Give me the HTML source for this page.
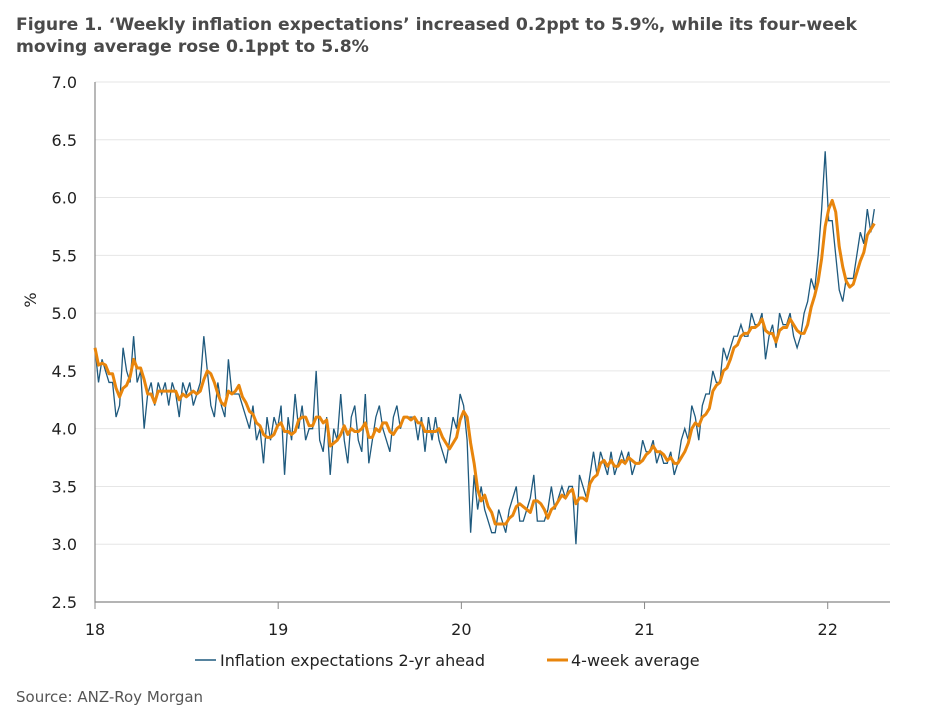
<!DOCTYPE html>
<html><head><meta charset="utf-8"><style>
body{margin:0;background:#fff;font-family:"DejaVu Sans","Liberation Sans",sans-serif;}
#wrap{position:relative;width:946px;height:712px;overflow:hidden}
.title{position:absolute;left:16px;top:14px;font-size:17.2px;font-weight:bold;color:#4a4a4a;line-height:22px;width:900px}
.src{position:absolute;left:16px;top:688px;font-size:15px;color:#555}
</style></head><body>
<div id="wrap">
<div class="title">Figure 1. ‘Weekly inflation expectations’ increased 0.2ppt to 5.9%, while its four-week moving average rose 0.1ppt to 5.8%</div>
<svg id="c" width="946" height="712" style="position:absolute;left:0;top:0"></svg>
<div class="src">Source: ANZ-Roy Morgan</div>
</div>
<script>
const yTicks=[2.5,3.0,3.5,4.0,4.5,5.0,5.5,6.0,6.5,7.0];
const xTicks=[18,19,20,21,22];
const startYear=18;
const weekly=[
4.7,4.4,4.6,4.5,4.4,4.4,4.1,4.2,4.7,4.5,4.4,4.8,4.4,4.5,4.0,4.3,4.4,4.2,4.4,4.3,4.4,4.2,4.4,4.3,4.1,4.4,4.3,4.4,4.2,4.3,4.4,4.8,4.5,4.2,4.1,4.4,4.2,4.1,4.6,4.3,4.3,4.3,4.2,4.1,4.0,4.2,3.9,4.0,3.7,4.1,3.9,4.1,
4.0,4.2,3.6,4.1,3.9,4.3,4.0,4.2,3.9,4.0,4.0,4.5,3.9,3.8,4.1,3.6,4.0,3.9,4.3,3.9,3.7,4.1,4.2,3.9,3.8,4.3,3.7,3.9,4.1,4.2,4.0,3.9,3.8,4.1,4.2,4.0,4.1,4.1,4.1,4.1,3.9,4.1,3.8,4.1,3.9,4.1,3.9,3.8,3.7,3.9,4.1,4.0,
4.3,4.2,3.9,3.1,3.6,3.3,3.5,3.3,3.2,3.1,3.1,3.3,3.2,3.1,3.3,3.4,3.5,3.2,3.2,3.3,3.4,3.6,3.2,3.2,3.2,3.3,3.5,3.3,3.4,3.5,3.4,3.5,3.5,3.0,3.6,3.5,3.4,3.6,3.8,3.6,3.8,3.7,3.6,3.8,3.6,3.7,3.8,3.7,3.8,3.6,3.7,3.7,
3.9,3.8,3.8,3.9,3.7,3.8,3.7,3.7,3.8,3.6,3.7,3.9,4.0,3.9,4.2,4.1,3.9,4.2,4.3,4.3,4.5,4.4,4.4,4.7,4.6,4.7,4.8,4.8,4.9,4.8,4.8,5.0,4.9,4.9,5.0,4.6,4.8,4.9,4.7,5.0,4.9,4.9,5.0,4.8,4.7,4.8,5.0,5.1,5.3,5.2,5.5,5.9,
6.4,5.8,5.8,5.5,5.2,5.1,5.3,5.3,5.3,5.5,5.7,5.6,5.9,5.7,5.9];
const L=95,R=890,T=82,B=602,ymin=2.5,ymax=7.0,xmin=18,xmax=22.34;
const X=v=>L+(v-xmin)/(xmax-xmin)*(R-L);
const Y=v=>B-(v-ymin)/(ymax-ymin)*(B-T);
const svg=document.getElementById('c');const NS='http://www.w3.org/2000/svg';
function mk(t,a){const e=document.createElementNS(NS,t);for(const k in a)e.setAttribute(k,a[k]);svg.appendChild(e);return e;}
yTicks.forEach(v=>{
 if(v>ymin){const g=mk('line',{x1:L,x2:R,y1:Y(v),y2:Y(v),stroke:'#e6e6e6','stroke-width':1});
 
 }
 const t=mk('text',{x:L-18,y:Y(v)+6,'text-anchor':'end','font-size':16,fill:'#222','font-family':'DejaVu Sans, Liberation Sans, sans-serif'});
 t.textContent=v.toFixed(1);
 
 
});
const ax=mk('path',{d:`M${L},${T} V${B} H${R}`,stroke:'#888',fill:'none','stroke-width':1.2});


xTicks.forEach(v=>{
 const tk=mk('line',{x1:X(v),x2:X(v),y1:B,y2:B+7,stroke:'#888'});
 
 
 const t=mk('text',{x:X(v),y:B+33,'text-anchor':'middle','font-size':16,fill:'#222','font-family':'DejaVu Sans, Liberation Sans, sans-serif'});
 t.textContent=v;
 
 
});
const yl=mk('text',{x:0,y:0,transform:`translate(36,300) rotate(-90)`,'text-anchor':'middle','font-size':16,fill:'#222','font-family':'DejaVu Sans, sans-serif'});
yl.textContent='%';


const xs=weekly.map((v,i)=>startYear+i/52.18);
// 4-week moving average derived from the weekly series
const avg=weekly.map((v,i)=>{const s=weekly.slice(Math.max(0,i-3),i+1);return s.reduce((a,b)=>a+b,0)/s.length;});
const p1=mk('polyline',{points:weekly.map((v,i)=>X(xs[i])+','+Y(v)).join(' '),fill:'none',stroke:'#1f5a7e','stroke-width':1.3});


const p2=mk('polyline',{points:avg.map((v,i)=>X(xs[i])+','+Y(v)).join(' '),fill:'none',stroke:'#e8850c','stroke-width':3,'stroke-linejoin':'round'});


const l1=mk('line',{x1:195,x2:216,y1:660,y2:660,stroke:'#1f5a7e','stroke-width':1.5});


const t1=mk('text',{x:220,y:666,'font-size':16,fill:'#222','font-family':'DejaVu Sans, sans-serif'});t1.textContent='Inflation expectations 2-yr ahead';


const l2=mk('line',{x1:547,x2:568,y1:660,y2:660,stroke:'#e8850c','stroke-width':3});


const t2=mk('text',{x:571,y:666,'font-size':16,fill:'#222','font-family':'DejaVu Sans, sans-serif'});t2.textContent='4-week average';


</script>
</body></html>
